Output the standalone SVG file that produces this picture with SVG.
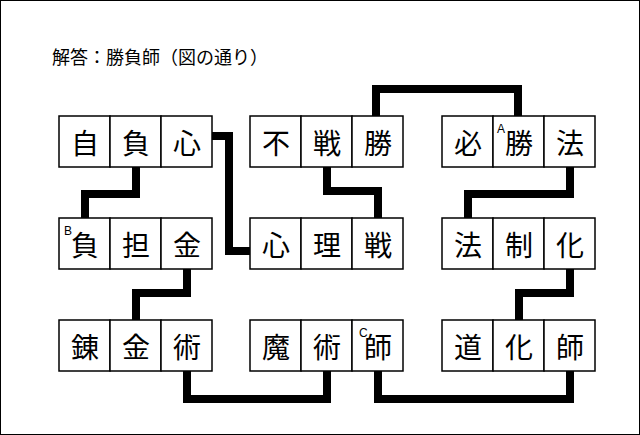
<svg xmlns="http://www.w3.org/2000/svg" width="640" height="435" viewBox="0 0 640 435">
<style>
.c{fill:#fff;stroke:#000;stroke-width:1.5}
.t{font-family:"Noto Sans CJK JP","Noto Sans CJK SC",sans-serif;font-size:28px;text-anchor:middle;dominant-baseline:central}
.s{font-family:"Liberation Sans",sans-serif;font-size:12px}
.l{fill:none;stroke:#000;stroke-width:8;stroke-linejoin:miter}
</style>
<rect x="0.5" y="0.5" width="639" height="434" fill="#fff" stroke="#000"/>
<text x="52" y="64" font-family="Noto Sans CJK JP,Noto Sans CJK SC,sans-serif" font-size="18">解答：勝負師（図の通り）</text>
<g id="connectors">
<path class="l" d="M136 167V194H85V218"/>
<path class="l" d="M212 136H229V251H250"/>
<path class="l" d="M376 116V89H518V116"/>
<path class="l" d="M327 167V191H378V218"/>
<path class="l" d="M570 167V194H468V218"/>
<path class="l" d="M570 269V293H519V320"/>
<path class="l" d="M187 269V293H136V320"/>
<path class="l" d="M187 371V399H327V371"/>
<path class="l" d="M378 371V399H570V371"/>
</g>
<g id="n1"><rect class="c" x="59" y="116" width="51" height="51"/><rect class="c" x="110" y="116" width="51" height="51"/><rect class="c" x="161" y="116" width="51" height="51"/><text class="t" x="85" y="142">自</text><text class="t" x="136" y="142">負</text><text class="t" x="187" y="142">心</text></g>
<g id="n2"><rect class="c" x="250" y="116" width="51" height="51"/><rect class="c" x="301" y="116" width="51" height="51"/><rect class="c" x="352" y="116" width="51" height="51"/><text class="t" x="276" y="142">不</text><text class="t" x="327" y="142">戦</text><text class="t" x="378" y="142">勝</text></g>
<g id="n3"><rect class="c" x="442" y="116" width="51" height="51"/><rect class="c" x="493" y="116" width="51" height="51"/><rect class="c" x="544" y="116" width="51" height="51"/><text class="t" x="468" y="142">必</text><text class="t" x="519" y="142">勝</text><text class="t" x="570" y="142">法</text><text class="s" x="497" y="133">A</text></g>
<g id="n4"><rect class="c" x="59" y="218" width="51" height="51"/><rect class="c" x="110" y="218" width="51" height="51"/><rect class="c" x="161" y="218" width="51" height="51"/><text class="t" x="85" y="244">負</text><text class="t" x="136" y="244">担</text><text class="t" x="187" y="244">金</text><text class="s" x="64" y="235">B</text></g>
<g id="n5"><rect class="c" x="250" y="218" width="51" height="51"/><rect class="c" x="301" y="218" width="51" height="51"/><rect class="c" x="352" y="218" width="51" height="51"/><text class="t" x="276" y="244">心</text><text class="t" x="327" y="244">理</text><text class="t" x="378" y="244">戦</text></g>
<g id="n6"><rect class="c" x="442" y="218" width="51" height="51"/><rect class="c" x="493" y="218" width="51" height="51"/><rect class="c" x="544" y="218" width="51" height="51"/><text class="t" x="468" y="244">法</text><text class="t" x="519" y="244">制</text><text class="t" x="570" y="244">化</text></g>
<g id="n7"><rect class="c" x="59" y="320" width="51" height="51"/><rect class="c" x="110" y="320" width="51" height="51"/><rect class="c" x="161" y="320" width="51" height="51"/><text class="t" x="85" y="346">錬</text><text class="t" x="136" y="346">金</text><text class="t" x="187" y="346">術</text></g>
<g id="n8"><rect class="c" x="250" y="320" width="51" height="51"/><rect class="c" x="301" y="320" width="51" height="51"/><rect class="c" x="352" y="320" width="51" height="51"/><text class="t" x="276" y="346">魔</text><text class="t" x="327" y="346">術</text><text class="t" x="378" y="346">師</text><text class="s" x="359" y="337">C</text></g>
<g id="n9"><rect class="c" x="442" y="320" width="51" height="51"/><rect class="c" x="493" y="320" width="51" height="51"/><rect class="c" x="544" y="320" width="51" height="51"/><text class="t" x="468" y="346">道</text><text class="t" x="519" y="346">化</text><text class="t" x="570" y="346">師</text></g>
</svg>
